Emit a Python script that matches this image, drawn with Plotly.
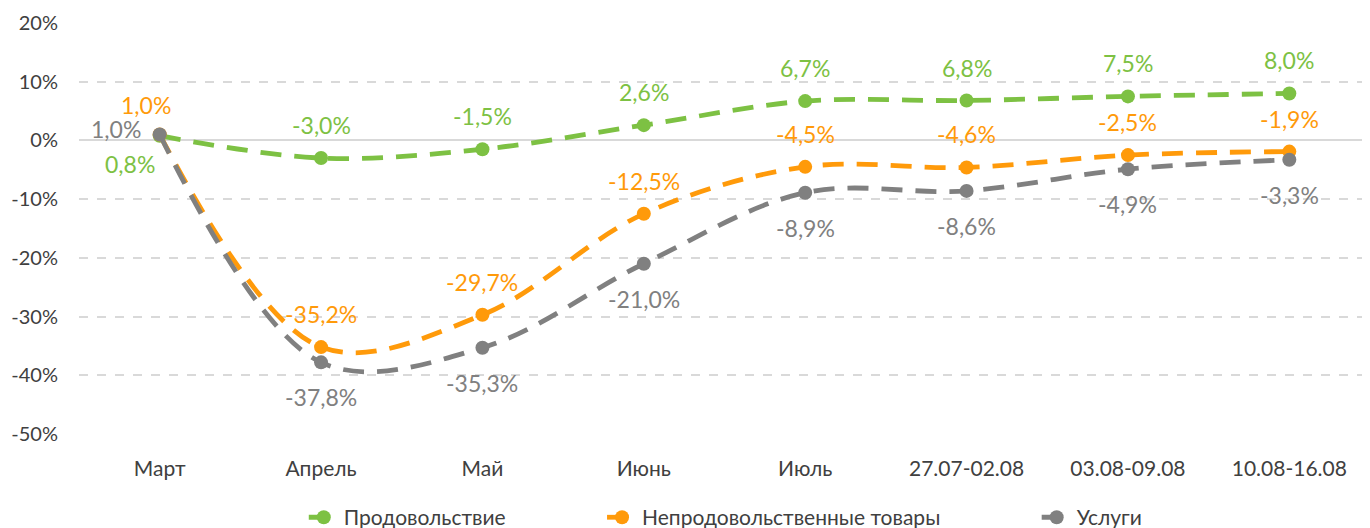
import plotly.graph_objects as go

categories = ["Март", "Апрель", "Май", "Июнь", "Июль", "27.07-02.08", "03.08-09.08", "10.08-16.08"]
food = [0.8, -3.0, -1.5, 2.6, 6.7, 6.8, 7.5, 8.0]
nonfood = [1.0, -35.2, -29.7, -12.5, -4.5, -4.6, -2.5, -1.9]
services = [1.0, -37.8, -35.3, -21.0, -8.9, -8.6, -4.9, -3.3]
tick_vals = [-50, -40, -30, -20, -10, 0, 10, 20]
tick_text = ["-50%", "-40%", "-30%", "-20%", "-10%", "0%", "10%", "20%"]

series = [
    ("Продовольствие", food, "#7DC143"),
    ("Непродовольственные товары", nonfood, "#FF9A0A"),
    ("Услуги", services, "#808080"),
]

# label offsets (px) per series / point
offsets = {
    "Продовольствие": [(-30, -28)] + [(0, 33)] * 7,
    "Непродовольственные товары": [(-14, 30)] + [(0, 33)] * 7,
    "Услуги": [(-44, 6)] + [(0, -35)] * 7,
}

FONT = "Lato"
PAD = "\u00a0" * 17
fig = go.Figure()
annotations = []
for name, vals, col in series:
    fig.add_trace(go.Scatter(
        x=categories, y=vals, name=name + (PAD if name != "Услуги" else ""),
        mode="lines+markers",
        line=dict(color=col, width=4.8, dash="21px,13px", shape="spline", smoothing=1.0),
        marker=dict(color=col, size=14),
    ))
    for c, v, (dx, dy) in zip(categories, vals, offsets[name]):
        annotations.append(dict(
            x=c, y=v, xref="x", yref="y", text=f"{v:.1f}%".replace(".", ","),
            showarrow=False, xshift=dx, yshift=dy,
            font=dict(family=FONT, size=23, color=col),
        ))

fig.update_layout(
    width=1362, height=520,
    margin=dict(l=71, r=0, t=15, b=94, autoexpand=False),
    paper_bgcolor="white", plot_bgcolor="white",
    font=dict(family=FONT, size=20, color="#404040"),
    annotations=annotations,
    showlegend=True,
    legend=dict(orientation="h", x=0.527, xanchor="center", xref="container",
                y=0.02, yanchor="middle", yref="container",
                font=dict(family=FONT, size=21, color="#404040")),
    xaxis=dict(type="category", range=[-0.5, 7.5], showgrid=False, showline=False,
               ticks="", ticklabelstandoff=20, tickfont=dict(size=21, color="#404040")),
    yaxis=dict(range=[-50, 20], tickvals=tick_vals, ticktext=tick_text, showgrid=True,
               gridcolor="#D9D9D9", gridwidth=1.5, griddash="dash",
               zeroline=True, zerolinecolor="#D9D9D9", zerolinewidth=2,
               showline=False, ticks="", ticklabelstandoff=20,
               tickfont=dict(size=20, color="#404040")),
)

fig.write_html("out.html")
